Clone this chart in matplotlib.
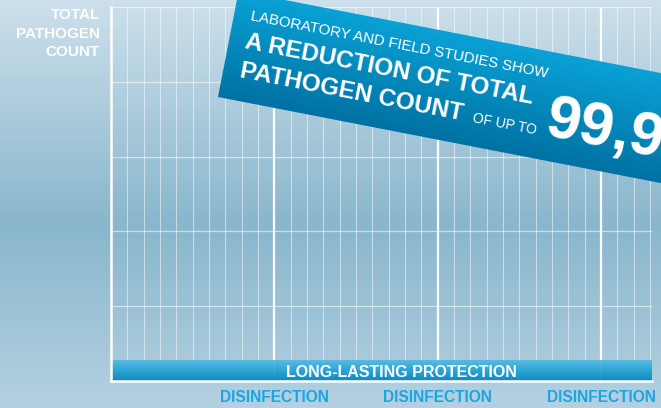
import numpy as np
import matplotlib
matplotlib.use("Agg")
import matplotlib.pyplot as plt
from matplotlib.colors import to_rgb

plt.rcParams['font.family'] = ['Liberation Sans', 'DejaVu Sans']

# chart content
grid_cols = list(range(1, 34))          # thin grid columns
grid_rows = [1, 2, 3, 4, 5]             # pathogen count rows
disinfection_x = [10, 20, 30]
disinfection_labels = ["DISINFECTION", "DISINFECTION", "DISINFECTION"]
x_max = 33.1
y_label = "TOTAL\nPATHOGEN\nCOUNT"
bar_label = "LONG-LASTING PROTECTION"
banner_lines = ["LABORATORY AND FIELD STUDIES SHOW", "A REDUCTION OF TOTAL",
                "PATHOGEN COUNT", "OF UP TO", "99,9"]

W, H = 661, 408


def gradient(stops, n):
    # vertical colour ramp, first stop at the top
    pos = [p for p, _ in stops]
    cols = np.array([to_rgb(c) for _, c in stops])
    t = np.linspace(0, 1, n)
    return np.stack([np.interp(t, pos, cols[:, i]) for i in range(3)], axis=-1)


fig = plt.figure(figsize=(W / 100, H / 100), dpi=100)

# background
bg = fig.add_axes([0, 0, 1, 1])
bg_col = gradient([(0, '#cde0eb'), (0.55, '#89b6cc'), (1, '#b4d1e1')], H)
bg.imshow(bg_col[:, None, :], aspect='auto', extent=(0, 1, 0, 1))
bg.axis('off')

# main grid axes
ax = fig.add_axes([111 / W, (H - 381) / H, (651.7 - 111) / W, (381 - 7) / H])
ax.set_facecolor('none')
ax.set_xlim(0, x_max)
ax.set_ylim(0, 5)
for x in grid_cols:
    ax.axvline(x, color='white', lw=0.8, alpha=0.5, zorder=1)
for y in grid_rows:
    ax.axhline(y, color='white', lw=0.9, alpha=0.55, zorder=1)
for x in disinfection_x:
    ax.axvline(x, color='white', lw=1.6, zorder=2)

# long-lasting protection bar
bar_h = 21 / 74.8
bar_col = gradient([(0, '#52b8e2'), (0.5, '#1ea2d6'), (1, '#0383b9')], 40)
ax.imshow(bar_col[:, None, :], aspect='auto', extent=(0, x_max, 0, bar_h),
          alpha=0.92, zorder=3)
ax.text(17.8, 0.06, bar_label, color='white', fontsize=11.5, fontweight='bold',
        ha='center', va='baseline', zorder=4)

for s in ['top', 'right']:
    ax.spines[s].set_visible(False)
for s in ['left', 'bottom']:
    ax.spines[s].set_color('white')
    ax.spines[s].set_linewidth(1.8)
    ax.spines[s].set_zorder(5)
ax.set_yticks([])
ax.set_xticks(disinfection_x)
ax.set_xticklabels(disinfection_labels, color='#1aa6e3', fontsize=11.2,
                   fontweight='bold')
ax.tick_params(axis='x', length=0, pad=6.5)

fig.text(100 / W, 1 - 8 / H, y_label, ha='right', va='top', multialignment='right',
         color='white', fontsize=11, fontweight='bold', linespacing=1.42)

# rotated banner, drawn in pixel coordinates (y down)
ang = np.deg2rad(11)
c, s = np.cos(ang), np.sin(ang)
x0, y0, bh = 218, 97, 108

bn = fig.add_axes([0, 0, 1, 1], zorder=10)
bn.set_xlim(0, W)
bn.set_ylim(H, 0)
bn.axis('off')
X, Y = np.meshgrid(np.arange(W) + 0.5, np.arange(H) + 0.5)
dx, dy = X - x0, Y - y0
v = dx * s - dy * c
u = dx * c + dy * s
alpha = np.clip(v + 0.5, 0, 1) * np.clip(bh + 0.5 - v, 0, 1) * np.clip(u + 0.5, 0, 1)
top, bot = np.array(to_rgb('#0aa2d6')), np.array(to_rgb('#0071a2'))
t = np.clip(v / bh, 0, 1)[..., None]
rgba = np.concatenate([bot + (top - bot) * t, alpha[..., None]], axis=-1)
bn.imshow(rgba, extent=(0, W, H, 0), interpolation='nearest', aspect='auto')


def put(txt, uu, vv, size, weight):
    px = x0 + uu * c + vv * s
    py = y0 + uu * s - vv * c
    bn.text(px, py, txt, color='white', fontsize=size, fontweight=weight,
            rotation=-11, rotation_mode='anchor', ha='left', va='baseline')


put(banner_lines[0], 16.5, 82, 10.8, 'normal')
put(banner_lines[1], 16.5, 53, 17.5, 'bold')
put(banner_lines[2], 16.5, 24, 17.5, 'bold')
put(banner_lines[3], 254, 24, 10, 'normal')
put(banner_lines[4], 327, 24, 44, 'bold')

fig.savefig('out.png', dpi=100)
